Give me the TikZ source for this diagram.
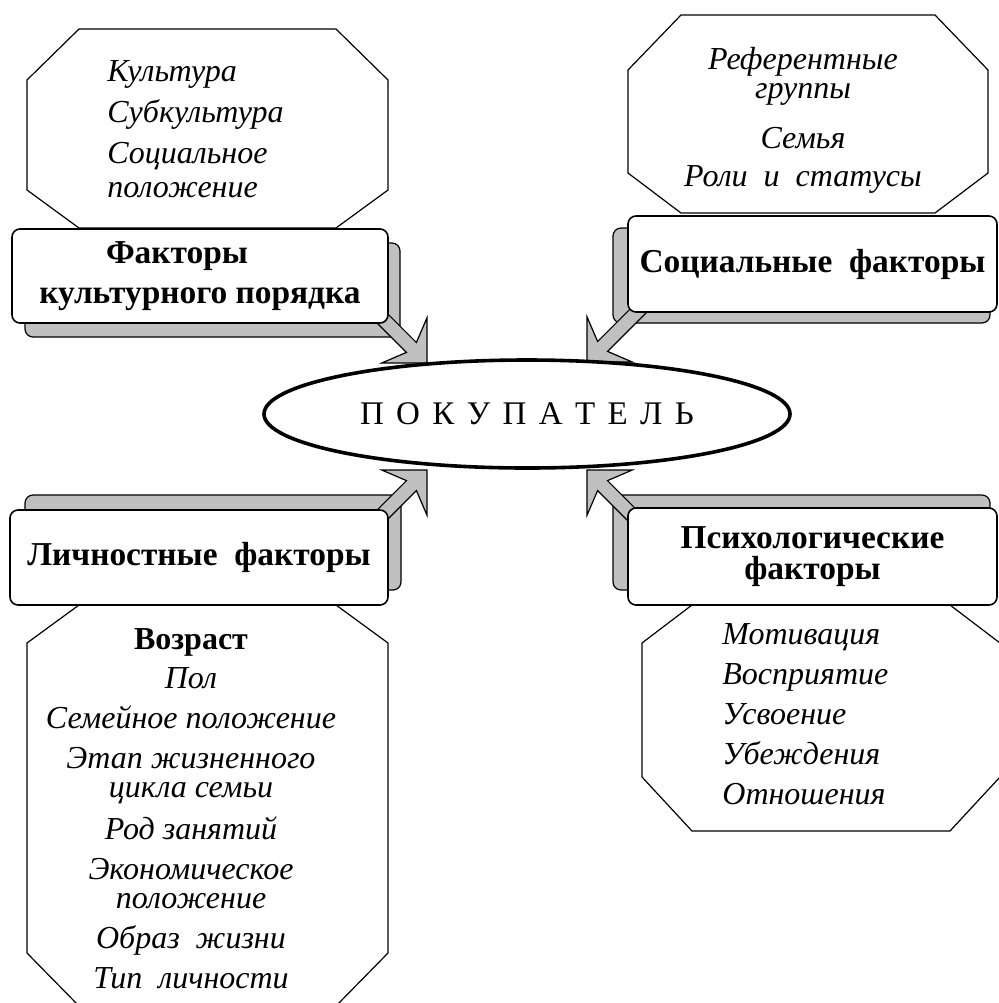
\documentclass[tikz,border=0pt]{standalone}
\usepackage{fontspec}
\setmainfont{Liberation Serif}
\usetikzlibrary{calc,shapes.geometric}
\definecolor{shadegray}{HTML}{C0C0C0}
\newcommand{\octa}[7]{%
  \draw[octline] (#1+#5,#2) -- (#3-#5,#2) -- (#3,#2+#6) -- (#3,#4-#7)
    -- (#3-#5,#4) -- (#1+#5,#4) -- (#1,#4-#7) -- (#1,#2+#6) -- cycle;}
\newcommand{\blockarrow}[2]{%
  \coordinate (#2-hb) at ($(#2)!16pt!(#1)$);
  \coordinate (#2-nb) at ($(#2)!11pt!(#1)$);
  \draw[arrowfill] ($(#1)!3.5pt!90:(#2)$) -- ($(#2-nb)!3.5pt!-90:(#1)$)
    -- ($(#2-hb)!16pt!-90:(#1)$) -- (#2) -- ($(#2-hb)!16pt!90:(#1)$)
    -- ($(#2-nb)!3.5pt!90:(#1)$) -- ($(#1)!3.5pt!-90:(#2)$) -- cycle;}

\begin{document}
\begin{tikzpicture}[x=0.5pt,y=-0.5pt,
  octline/.style={draw,line width=0.6pt},
  shadebox/.style={draw,fill=shadegray,line width=0.6pt,rounded corners=4pt},
  arrowfill/.style={draw,fill=shadegray,line width=0.6pt,line join=miter},
  factbox/.style={rectangle,draw,fill=white,rounded corners=4pt,line width=0.8pt,
    inner sep=0pt,align=center,font=\bfseries\fontsize{16.7pt}{20pt}\selectfont},
  itemlist/.style={inner sep=0pt,font=\itshape\fontsize{16pt}{20.5pt}\selectfont},
  buyerell/.style={ellipse,draw,fill=white,line width=1.8pt,inner sep=0pt,
    minimum width=263pt,minimum height=54pt}]
\useasboundingbox (0,0) rectangle (998,1003);

% octagons and their lists
\octa{27}{29}{388}{228}{52}{51}{38}
\octa{628}{15}{988}{213}{53}{55}{40}
\octa{27}{605}{388}{1006}{52}{38}{53}
\octa{642}{605}{1000}{831}{50}{38}{54}

\node[itemlist,anchor=north west,align=left] (cultlist) at (107,60)
  {Культура\\Субкультура\\Социальное\\[-3.5pt]положение};
\node[itemlist,anchor=north,align=center,
  font=\itshape\fontsize{16pt}{14.5pt}\selectfont] (soclist) at (803,47)
  {Референтные\\группы\\[10.5pt]Семья\\[4.5pt]Роли~~и~~статусы};
\node[itemlist,anchor=north,align=center,
  font=\itshape\fontsize{16pt}{14.5pt}\selectfont] (perslist) at (191,628)
  {{\bfseries\upshape Возраст}\\[5pt]Пол\\[5.5pt]Семейное положение\\[5.5pt]Этап жизненного\\
   цикла семьи\\[5.5pt]Род занятий\\[5.5pt]Экономическое\\положение\\[5.5pt]Образ~~жизни\\[5.5pt]Тип~~личности};
\node[itemlist,anchor=north west,align=left,
  font=\itshape\fontsize{16pt}{20pt}\selectfont] (psylist) at (722,623)
  {Мотивация\\Восприятие\\Усвоение\\Убеждения\\Отношения};

% shadows
\draw[shadebox] (25,243) rectangle (400,337);
\draw[shadebox] (613,228) rectangle (990,323);
\draw[shadebox] (25,495) rectangle (401,590);
\draw[shadebox] (613,495) rectangle (990,590);

% arrows
\coordinate (tailcult) at (372,308);
\coordinate (tipcult) at (427,363);
\coordinate (tailsoc) at (647,302);
\coordinate (tipsoc) at (587,362);
\coordinate (tailpers) at (372,525);
\coordinate (tippers) at (427,470);
\coordinate (tailpsy) at (642,525);
\coordinate (tippsy) at (587,470);
\blockarrow{tailcult}{tipcult}
\blockarrow{tailsoc}{tipsoc}
\blockarrow{tailpers}{tippers}
\blockarrow{tailpsy}{tippsy}

% factor boxes
\node[factbox,minimum width=188pt,minimum height=47pt] (cult) at (200,276)
  {Факторы\hspace*{23pt}\\культурного порядка};
\node[factbox,minimum width=184.5pt,minimum height=48pt] (soc) at (812.5,264)
  {\raisebox{3pt}{Социальные~~факторы}};
\node[factbox,minimum width=189pt,minimum height=47.5pt] (pers) at (199,557.5)
  {Личностные~~факторы};
\node[factbox,minimum width=184.5pt,minimum height=48.5pt,
  font=\bfseries\fontsize{16.7pt}{15.5pt}\selectfont] (psy) at (812.5,556.5)
  {Психологические\\факторы};

\node[buyerell,font=\fontsize{16.5pt}{18pt}\selectfont] (buyer) at (527,414)
  {\spaceskip=6.2pt П О К У П А Т Е Л Ь};
\end{tikzpicture}
\end{document}
